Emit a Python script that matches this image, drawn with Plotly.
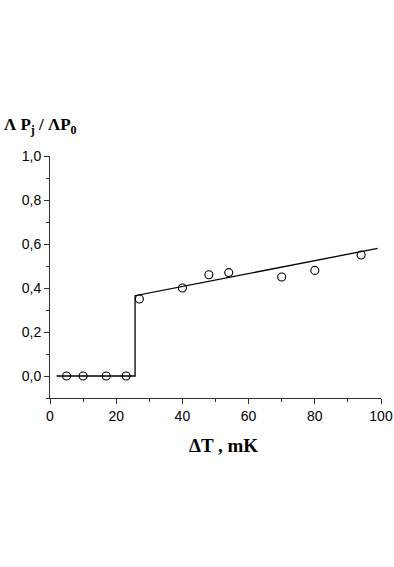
import plotly.graph_objects as go

# Measured data (open circles)
dT_points = [5, 10, 17, 23, 27, 40, 48, 54, 70, 80, 94]
ratio_points = [0.0, 0.0, 0.0, 0.0, 0.35, 0.40, 0.46, 0.47, 0.45, 0.48, 0.55]

# Fitted step + linear line
dT_fit = [2, 25.7, 25.7, 99]
ratio_fit = [0.0, 0.0, 0.365, 0.58]

x_ticks = [0, 20, 40, 60, 80, 100]
y_ticks = [0.0, 0.2, 0.4, 0.6, 0.8, 1.0]

fig = go.Figure()
fig.add_trace(go.Scatter(x=dT_fit, y=ratio_fit, mode="lines",
                         line=dict(color="black", width=1.3), showlegend=False))
fig.add_trace(go.Scatter(x=dT_points, y=ratio_points, mode="markers",
                         marker=dict(symbol="circle-open", size=8, color="black",
                                     line=dict(width=1.1, color="black")),
                         showlegend=False))

tickfont = dict(family="Liberation Sans, Arial", size=14, color="black")
fig.update_layout(
    width=394, height=567,
    margin=dict(l=50, r=13, t=156, b=169),
    paper_bgcolor="white", plot_bgcolor="white",
    separators=",.",
    xaxis=dict(range=[0, 100], tickvals=x_ticks, ticks="outside", ticklen=5,
               tickcolor="#333", showline=True, linecolor="#333", linewidth=1,
               showgrid=False, zeroline=False, tickfont=tickfont, automargin=False,
               minor=dict(dtick=10, tick0=0, ticks="outside", ticklen=3, tickcolor="#333")),
    yaxis=dict(range=[-0.1, 1.0], tickvals=y_ticks, tickformat=".1f", ticks="outside", ticklen=5,
               tickcolor="#333", showline=True, linecolor="#333", linewidth=1,
               showgrid=False, zeroline=False, tickfont=tickfont, automargin=False,
               minor=dict(dtick=0.1, tick0=0, ticks="outside", ticklen=3, tickcolor="#333")),
)

fig.add_annotation(text="<b>ΔT , mK</b>", xref="paper", yref="paper",
                   x=0.523, y=-0.198, xanchor="center", yanchor="middle", showarrow=False,
                   font=dict(family="Liberation Serif, Times New Roman", size=19, color="black"))
fig.add_annotation(text="<b>Λ P<sub>j</sub> / ΛP<sub>0</sub></b>", xref="paper", yref="paper",
                   x=-0.145, y=1.125, xanchor="left", yanchor="middle", showarrow=False,
                   font=dict(family="Liberation Serif, Times New Roman", size=17, color="black"))

fig.write_html("out.html", config={"displayModeBar": False},
               post_script="document.body.style.margin='0';")
